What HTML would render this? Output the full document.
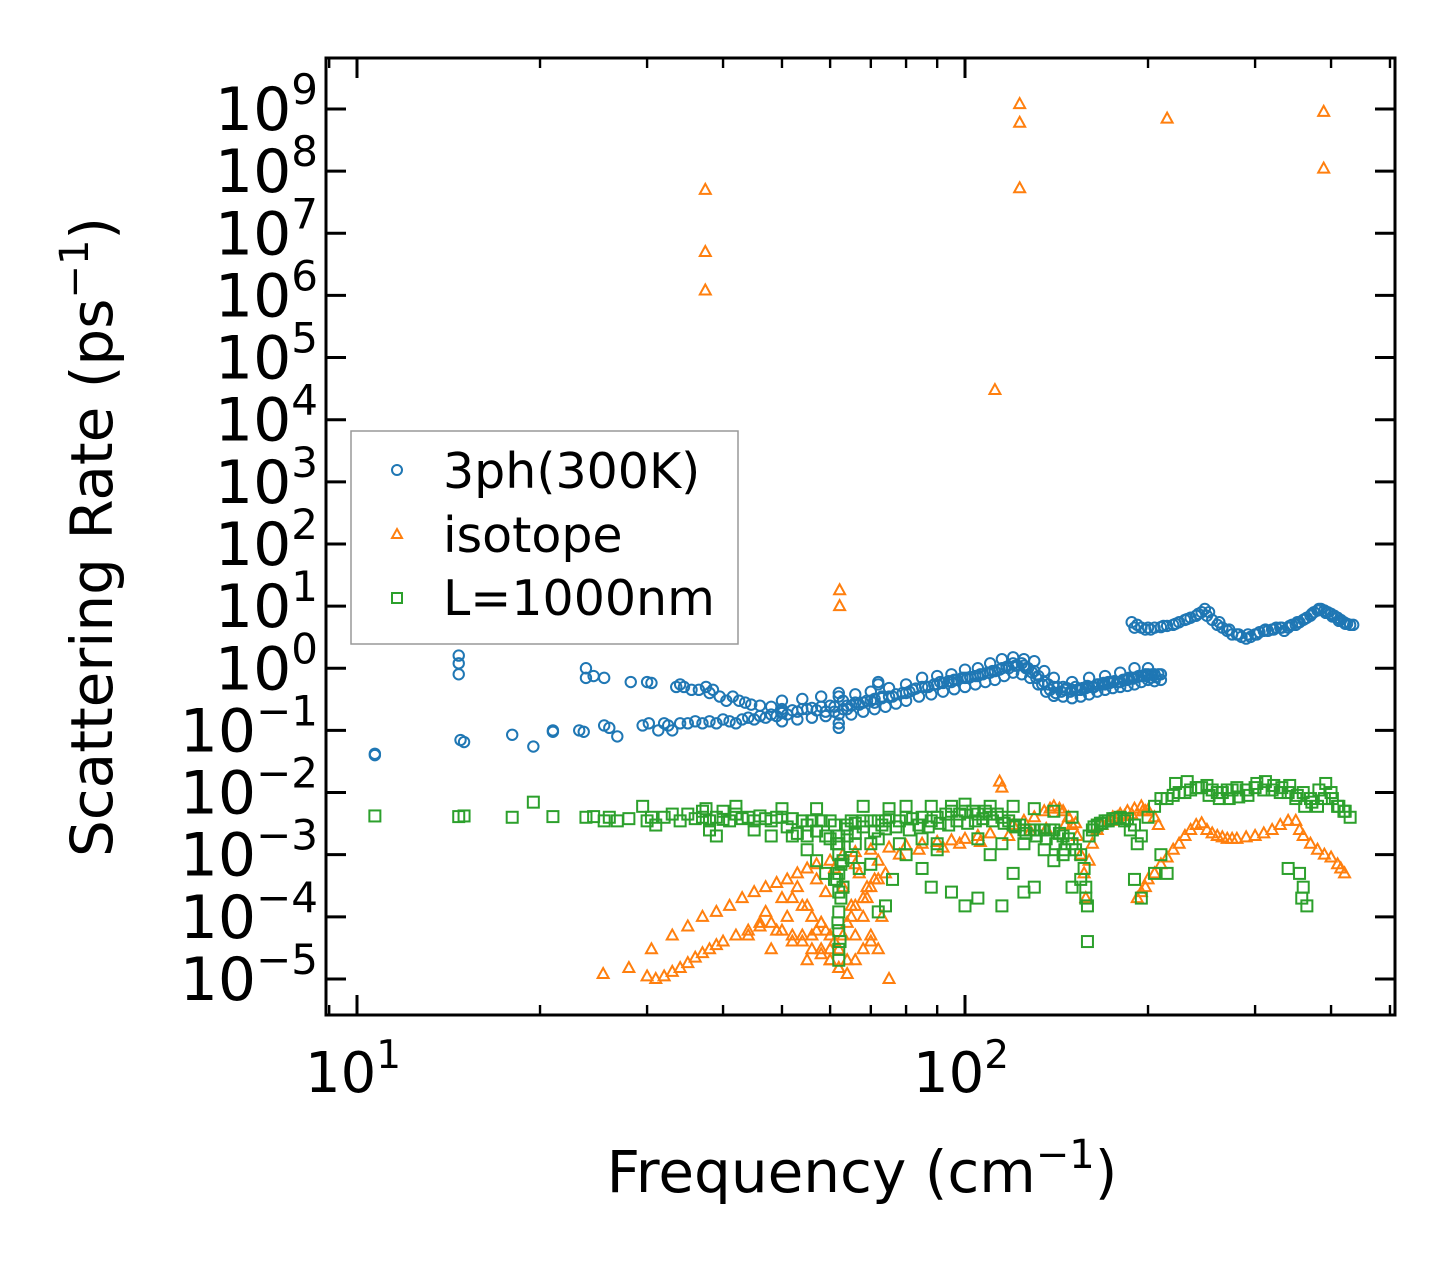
<!DOCTYPE html>
<html><head><meta charset="utf-8"><style>
html,body{margin:0;padding:0;background:#fff;}
svg{display:block;font-family:"DejaVu Sans","Liberation Sans",sans-serif;}
</style></head><body>
<svg id="chart" width="1455" height="1265" viewBox="0 0 1455 1265" xmlns="http://www.w3.org/2000/svg">
<rect x="0" y="0" width="1455" height="1265" fill="#fff"/>
<g id="marks"></g>
<g id="axes"></g>
<text x="862" y="1192" font-size="58" text-anchor="middle">Frequency (cm<tspan font-size="40" dy="-24">−1</tspan><tspan dy="24">)</tspan></text>
<text transform="translate(112,537) rotate(-90)" font-size="58" text-anchor="middle">Scattering Rate (ps<tspan font-size="40" dy="-24">−1</tspan><tspan dy="24">)</tspan></text>
<g>
<rect x="351" y="431" width="387" height="213" fill="#fff" fill-opacity="0.8" stroke="#999" stroke-width="1.5"/>
<g>
<circle cx="397" cy="470" r="5" fill="none" stroke="#1f77b4" stroke-width="2"/>
<text x="443" y="488" font-size="49">3ph(300K)</text></g>
<g>
<polygon points="397,529 402,538 392,538" fill="none" stroke="#ff7f0e" stroke-width="2"/>
<text x="443" y="552" font-size="49">isotope</text></g>
<g>
<rect x="392" y="593" width="10" height="10" fill="none" stroke="#2ca02c" stroke-width="2"/>
<text x="443" y="615" font-size="49">L=1000nm</text></g>
</g>
</svg>
<script>
// ---- data ----
const phFreq = [10.7,10.7,14.7,14.7,14.7,14.8,15.0,18.0,19.5,21,21,23.8,23.8,24.5,25.5,23.2,23.6,25.5,26,26.8,28.2,30,30.5,29.5,30.2,31.3,32,32.5,33,34,
33.5,34,34.5,35.5,36.5,37.5,38,38.5,39.5,40.5,41.5,42.5,43.5,44.5,46,48,50,
35,36,37,38,39,40,41,42,43,44,45,46,47,48,49,50,
50,52,54,56,58,60,61,62,62,63,64,65,66,68,70,71,72,72,73,75,77,80,82,85,87,90,92,95,97,100,102,105,107,110,112,115,117,120,122,125,127,130,132,135,137,140,142,145,147,150,153,155,158,160,163,165,168,170,173,175,178,180,183,185,188,190,193,195,198,200,203,205,208,210,
50,53,56,59,62,62,65,68,71,74,77,80,84,88,92,96,100,104,108,112,116,120,124,128,132,136,140,145,150,155,160,165,170,175,180,185,190,195,200,205,210,
50,54,58,62,66,70,75,80,85,90,95,100,105,110,115,120,125,130,135,140,150,160,170,180,190,200,
51,53,55,57,59,61,63,64,67,69,71,73,76,79,81,83,86,89,91,94,96,99,101,104,106,109,111,114,118,121,124,126,129,131,134,138,141,144,146,149,152,156,159,162,166,169,172,176,179,182,186,189,192,196,199,202,206,
188,190,192,195,198,200,205,210,215,220,225,230,235,240,245,248,250,255,260,265,270,275,280,285,290,295,300,305,310,315,320,325,330,335,340,345,350,355,360,365,370,375,380,385,390,395,400,405,410,415,420,425,430,435,
202,212,222,232,242,252,262,272,282,292,302,312,322,332,342,352,362,372,382,392,402,412,422];
const phRate = [0.042,0.04,1.6,1.2,0.8,0.07,0.065,0.085,0.055,0.1,0.095,1.0,0.7,0.75,0.7,0.1,0.095,0.12,0.11,0.08,0.6,0.6,0.58,0.12,0.13,0.1,0.13,0.12,0.1,0.13,
0.5,0.55,0.5,0.45,0.45,0.5,0.4,0.45,0.35,0.3,0.35,0.3,0.28,0.26,0.25,0.24,0.22,
0.13,0.14,0.13,0.14,0.13,0.15,0.14,0.13,0.15,0.16,0.15,0.17,0.16,0.18,0.17,0.19,
0.2,0.21,0.22,0.23,0.24,0.25,0.2,0.18,0.35,0.22,0.25,0.25,0.28,0.28,0.3,0.32,0.6,0.55,0.35,0.35,0.38,0.4,0.45,0.5,0.5,0.55,0.58,0.6,0.65,0.7,0.72,0.75,0.8,0.85,0.9,1.0,1.05,1.2,1.1,1.1,1.0,0.9,0.75,0.6,0.55,0.5,0.5,0.5,0.48,0.45,0.45,0.45,0.48,0.5,0.5,0.55,0.55,0.55,0.58,0.6,0.6,0.6,0.65,0.65,0.7,0.7,0.75,0.75,0.8,0.8,0.8,0.8,0.8,0.8,
0.14,0.15,0.16,0.17,0.11,0.13,0.18,0.2,0.22,0.24,0.27,0.3,0.35,0.38,0.42,0.46,0.5,0.55,0.6,0.65,0.75,0.85,0.8,0.7,0.55,0.42,0.36,0.35,0.33,0.35,0.38,0.42,0.45,0.48,0.5,0.52,0.55,0.6,0.65,0.62,0.65,
0.3,0.32,0.35,0.4,0.38,0.42,0.48,0.55,0.7,0.75,0.8,0.95,1.0,1.2,1.4,1.5,1.4,1.3,0.9,0.7,0.6,0.7,0.75,0.85,1.0,1.0,
0.18,0.2,0.22,0.21,0.2,0.24,0.3,0.22,0.26,0.3,0.28,0.33,0.35,0.4,0.42,0.47,0.5,0.55,0.6,0.62,0.65,0.7,0.7,0.75,0.8,0.85,0.9,0.95,1.0,1.1,1.2,1.0,0.85,0.7,0.55,0.45,0.4,0.42,0.45,0.42,0.5,0.48,0.52,0.5,0.55,0.58,0.6,0.62,0.6,0.65,0.7,0.68,0.72,0.75,0.75,0.7,0.72,
5.5,4.5,5,4.5,4.2,4.5,4.5,4.6,4.8,5,5.5,6,6.5,7,8,9,7,6,5,4.5,4,3.5,3.5,3.2,3.0,3.2,3.5,3.8,4,4,4.2,4.5,4.5,4,4.5,5,5,5.5,6,6.5,7,8,8.5,9,8.5,8,7.5,7,6.5,6,5.5,5.2,5,5,
4.2,4.8,5.2,6.2,7.5,8,5.5,4.2,3.5,3.5,3.5,4.2,4.2,4.5,4.8,5.5,6.2,7.5,9,7.8,6.8,5.8,5.2];

const isoFreq = [37.4,37.4,37.4,62.2,62.2,112,123,123,123,215,389,389,
25.4,28,30.5,33,35,37,39,41,43,45,47,49,51,53,55,57,60,63,66,70,75,80,85,90,95,100,105,110,114,115,120,125,130,135,138,140,143,145,148,150,153,155,157,158,160,162,165,168,172,175,180,185,190,195,198,
192,195,198,200,205,210,215,220,225,230,235,240,245,250,255,260,265,270,275,280,290,300,310,320,330,340,350,355,360,370,380,390,400,410,415,421,
30,31,32,33,34,35,36,37,38,39,40,42,44,46,48,50,52,54,56,58,60,62,64,66,68,70,72,75,
52,54,56,58,59,60,61,62,63,64,65,66,68,70,72,74,56,58,60,62,64,66,68,70,
44,46,47,49,50,51,53,54,55,57,58,59,61,63,65,67,69,71,73,48,52,55,57,60,66,69,72,78,84,92,98,106,118,128,136,146,152,174,178,183,188,196,200,205,208];
const isoRate = [5e7,5e6,1.2e6,18,10,3e4,1.2e9,6e8,5.3e7,7e8,9e8,1.1e8,
1.2e-5,1.5e-5,3e-5,5e-5,7e-5,1e-4,1.2e-4,1.5e-4,2e-4,2.5e-4,3e-4,3.5e-4,4e-4,5e-4,6e-4,7e-4,8e-4,1e-3,1.1e-3,1.2e-3,1.3e-3,1.4e-3,1.5e-3,1.6e-3,1.7e-3,1.8e-3,2e-3,2.2e-3,1.5e-2,1.2e-2,3e-3,3.5e-3,4e-3,5e-3,5.5e-3,6e-3,5.5e-3,5e-3,4e-3,3e-3,2e-3,1e-3,5e-4,2e-4,8e-4,1.5e-3,2.5e-3,3e-3,3.5e-3,4e-3,4.5e-3,5e-3,5.5e-3,6e-3,5e-3,
2e-4,2.5e-4,3e-4,4e-4,5e-4,7e-4,9e-4,1.2e-3,1.5e-3,2e-3,2.5e-3,3e-3,3.2e-3,2.5e-3,2.2e-3,2e-3,1.9e-3,1.8e-3,1.8e-3,1.8e-3,1.9e-3,2e-3,2.2e-3,2.5e-3,3e-3,3.5e-3,3.5e-3,2.5e-3,2e-3,1.5e-3,1.2e-3,1e-3,9e-4,7e-4,6e-4,5e-4,
1.1e-5,1e-5,1.1e-5,1.3e-5,1.5e-5,1.8e-5,2.2e-5,2.6e-5,3e-5,3.5e-5,4e-5,5e-5,6e-5,7e-5,8e-5,6e-5,5e-5,4e-5,3e-5,2.5e-5,2e-5,1.5e-5,1.2e-5,2e-5,3e-5,4e-5,3e-5,1e-5,
2e-4,1.5e-4,1e-4,8e-5,6e-5,5e-5,4e-5,3e-5,5e-5,8e-5,1e-4,1.5e-4,2e-4,3e-4,4e-4,5e-4,5e-5,3e-5,2e-5,1.5e-5,2e-5,5e-5,1e-4,5e-5,
5e-5,8e-5,1.2e-4,6e-5,2e-4,1e-4,3e-4,5e-5,1.5e-4,4e-4,8e-5,2.5e-4,6e-4,3e-4,1.5e-4,5e-4,2e-4,4e-4,1e-4,3e-5,4e-5,2e-5,6e-5,3e-5,7e-4,3e-4,8e-4,1e-3,1.2e-3,1.3e-3,1.5e-3,1.6e-3,2e-3,2.4e-3,2.6e-3,3e-3,3.2e-3,3.5e-3,4e-3,4.2e-3,4.5e-3,5e-3,5.2e-3,4e-3,3e-3];

const blFreq = [10.7,14.7,15.0,18.0,19.5,21,23.8,24.5,25.5,26,26.8,28,29.5,30,30.5,31,32,33,34,35,36,37,37.5,38,39,40,41,42,43,44,45,46,47,48,49,50,52,54,56,58,60,61,62,62,62,62,62,62,62,62,62,63,63,64,65,66,68,70,72,73,74,75,78,80,82,85,88,90,93,95,98,100,103,105,108,110,113,115,118,120,123,125,128,130,133,135,138,140,143,145,148,150,152,155,157,158,159,159,160,162,165,168,170,175,180,185,190,192,195,200,205,210,215,220,225,230,235,240,245,250,255,260,265,270,275,280,290,300,310,320,330,340,350,360,370,380,390,400,410,420,430,
37,38,39,40,42,45,48,50,52,55,57,60,64,66,68,70,72,75,78,80,85,88,90,95,100,105,110,115,120,125,130,135,140,145,150,
55,57,59,61,63,65,67,70,72,74,76,80,85,88,90,95,100,105,110,115,120,125,130,140,150,155,158,190,195,205,210,215,355,358,360,365,340,
61.5,62.5,61.5,62.5,61.8,62.3,51,53,55,57,59,64,66,68,71,74,77,81,84,87,91,94,97,101,104,107,111,116,121,126,131,136,141,146,163,167,172,177,183,187,222,232,242,252,262,272,282,292,302,312,322,332,342,352,362,372,382,392,402,412,422];
const blRate = [4.2e-3,4.1e-3,4.2e-3,4e-3,7e-3,4.1e-3,4e-3,4.1e-3,3.5e-3,4e-3,3.5e-3,3.8e-3,6e-3,3.5e-3,4e-3,3e-3,4e-3,4.5e-3,3.5e-3,4.5e-3,3.8e-3,4e-3,5.5e-3,3.5e-3,4e-3,3.7e-3,3.5e-3,4.5e-3,3.8e-3,4e-3,3.5e-3,4.2e-3,3.8e-3,3.5e-3,4e-3,4e-3,3.8e-3,3.5e-3,3.5e-3,3.5e-3,3.5e-3,3e-3,2e-3,1e-3,5e-4,2.5e-4,1.2e-4,6e-5,3e-5,2e-5,1.5e-3,8e-4,3e-4,3e-3,3.5e-3,3.2e-3,3.5e-3,3.5e-3,3.5e-3,3e-3,3.5e-3,4e-3,3.5e-3,4e-3,3.8e-3,4e-3,3.5e-3,4e-3,4.5e-3,5e-3,4.5e-3,5e-3,5e-3,4.5e-3,5e-3,4.5e-3,4.5e-3,4e-3,3.5e-3,3e-3,3e-3,2.5e-3,2.5e-3,2.5e-3,2.5e-3,2.5e-3,2.5e-3,2.5e-3,2.2e-3,2e-3,1.8e-3,1.5e-3,1.2e-3,1e-3,6e-4,3e-4,1.5e-4,4e-5,2e-3,2.5e-3,3e-3,3.2e-3,3.5e-3,3.8e-3,4e-3,3.8e-3,3e-3,1.5e-3,2e-3,4e-3,6e-3,8e-3,8e-3,9e-3,1e-2,1e-2,1.1e-2,1.2e-2,1.2e-2,1.3e-2,1.1e-2,1e-2,1e-2,1.1e-2,1.1e-2,1.2e-2,1.1e-2,1.2e-2,1.1e-2,1.1e-2,1e-2,1e-2,8e-3,1e-2,8e-3,6e-3,8e-3,1e-2,6e-3,5e-3,4e-3,
5e-3,2.5e-3,2e-3,5e-3,6e-3,2.5e-3,2e-3,5.5e-3,2e-3,2e-3,5.5e-3,1.8e-3,2e-3,1.5e-3,6e-3,1.5e-3,1.8e-3,5.5e-3,1.5e-3,6e-3,1.8e-3,6e-3,1.5e-3,6e-3,6.5e-3,1.8e-3,6e-3,1.5e-3,6e-3,1.5e-3,5.5e-3,1.2e-3,5e-3,1e-3,4e-3,
1.2e-3,8e-4,5e-4,4e-4,3e-4,9e-4,6e-4,7e-4,1.2e-4,1.5e-4,4e-4,1e-3,6e-4,3e-4,1.2e-3,2.5e-4,1.5e-4,2e-4,1e-3,1.5e-4,5e-4,2.5e-4,3e-4,8e-4,3e-4,4e-4,2e-4,4e-4,2e-4,5e-4,1e-3,5e-4,5e-4,2e-4,3e-4,1.5e-4,6e-4,
1.5e-3,7e-4,4e-4,2e-4,8e-5,4e-5,2.8e-3,2.2e-3,3e-3,2.4e-3,2e-3,2.6e-3,2.2e-3,2.8e-3,2.4e-3,2.6e-3,2.8e-3,2.5e-3,3e-3,2.8e-3,3.2e-3,3e-3,3.5e-3,3.2e-3,3.5e-3,3.8e-3,3.5e-3,3.2e-3,2.8e-3,2.2e-3,2e-3,1.8e-3,1.5e-3,1.2e-3,2.8e-3,3.2e-3,3.5e-3,3.8e-3,3.5e-3,2.5e-3,1.4e-2,1.5e-2,1.2e-2,9e-3,8e-3,8e-3,8.5e-3,9e-3,1.4e-2,1.5e-2,1.3e-2,1.2e-2,1.3e-2,9e-3,6e-3,7e-3,1.1e-2,1.4e-2,8e-3,6e-3,5e-3];

// ---- axes ----
const X0 = 357, XDEC = 608, Y9 = 109, YDEC = 62.14;
const PL = 326, PR = 1395, PT = 58, PB = 1015;
function xs(f){ return X0 + XDEC*(Math.log10(f) - 1); }
function ys(v){ return Y9 + YDEC*(9 - Math.log10(v)); }
const NS = 'http://www.w3.org/2000/svg';
function mk(tag, attrs, parent){ const e = document.createElementNS(NS, tag); for (const k in attrs) e.setAttribute(k, attrs[k]); parent.appendChild(e); return e; }
const marks = document.getElementById('marks');
const axes = document.getElementById('axes');

const gPh = mk('g', {}, marks);


const gIso = mk('g', {}, marks);


const gBl = mk('g', {}, marks);



phFreq.forEach((f, i) => {
  const c = mk('circle', {cx: xs(f), cy: ys(phRate[i]), r: 5.2, fill: 'none', stroke: '#1f77b4', 'stroke-width': 2}, gPh);
  
  
});
isoFreq.forEach((f, i) => {
  const x = xs(f), y = ys(isoRate[i]);
  const p = mk('polygon', {points: `${x},${y-6} ${x+5.5},${y+4} ${x-5.5},${y+4}`, fill: 'none', stroke: '#ff7f0e', 'stroke-width': 2}, gIso);
  
  
});
blFreq.forEach((f, i) => {
  const x = xs(f), y = ys(blRate[i]);
  const r = mk('rect', {x: x-5.5, y: y-5.5, width: 11, height: 11, fill: 'none', stroke: '#2ca02c', 'stroke-width': 2}, gBl);
  
  
});

// frame
const frame = mk('rect', {x: PL, y: PT, width: PR-PL, height: PB-PT, fill: 'none', stroke: '#000', 'stroke-width': 3}, axes);



// y ticks
const yExp = [9,8,7,6,5,4,3,2,1,0,-1,-2,-3,-4,-5];
yExp.forEach(e => {
  const y = ys(Math.pow(10, e));
  mk('line', {x1: PL, x2: PL+20, y1: y, y2: y, stroke: '#000', 'stroke-width': 3}, axes);
  mk('line', {x1: PR, x2: PR-20, y1: y, y2: y, stroke: '#000', 'stroke-width': 3}, axes);
  const t = mk('text', {x: 318, y: y+21, 'font-size': 60, 'text-anchor': 'end'}, axes);
  
  
  t.innerHTML = '10<tspan font-size="42" dy="-26">' + (e < 0 ? '−' + (-e) : e) + '</tspan>';
});
// x ticks
const xMajor = [10, 100];
const xMinor = [9,20,30,40,50,60,70,80,90,200,300,400,500];
xMajor.forEach((f, i) => {
  const x = xs(f);
  mk('line', {x1: x, x2: x, y1: PB, y2: PB-20, stroke: '#000', 'stroke-width': 3}, axes);
  mk('line', {x1: x, x2: x, y1: PT, y2: PT+20, stroke: '#000', 'stroke-width': 3}, axes);
  const t = mk('text', {x: x-4, y: 1092, 'font-size': 56, 'text-anchor': 'middle'}, axes);
  
  
  t.innerHTML = '10<tspan font-size="39" dy="-24">' + (i + 1) + '</tspan>';
});
xMinor.forEach(f => {
  const x = xs(f);
  if (x < PL || x > PR) return;
  mk('line', {x1: x, x2: x, y1: PB, y2: PB-10, stroke: '#000', 'stroke-width': 2.4}, axes);
  mk('line', {x1: x, x2: x, y1: PT, y2: PT+10, stroke: '#000', 'stroke-width': 2.4}, axes);
});
</script>
</body></html>
